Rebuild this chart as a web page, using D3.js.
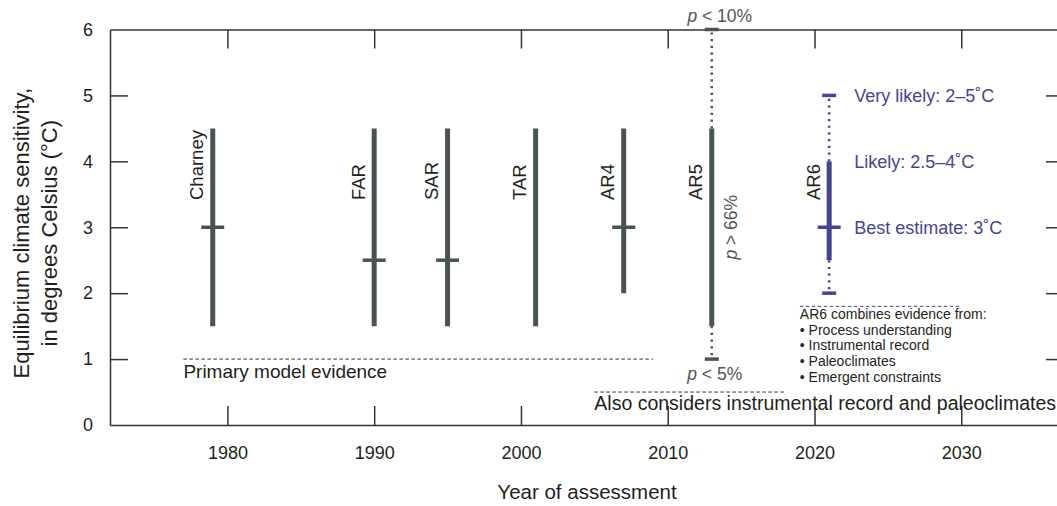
<!DOCTYPE html>
<html>
<head>
<meta charset="utf-8">
<script src="https://cdn.jsdelivr.net/npm/d3@7"></script>
<style>
  body { margin: 0; background: #fff; }
  svg { font-family: "Liberation Sans", Arial, sans-serif; }
</style>
</head>
<body>
<div class="chart-container"></div>
<script>
const WIDTH = 1057;
const HEIGHT = 506;

// assessments
const reports = ["Charney", "FAR", "SAR", "TAR", "AR4", "AR5", "AR6"];
const years = [1979, 1990, 1995, 2001, 2007, 2013, 2021];
const lowValues = [1.5, 1.5, 1.5, 1.5, 2, 1.5, 2.5];
const highValues = [4.5, 4.5, 4.5, 4.5, 4.5, 4.5, 4];
const bestValues = [3, 2.5, 2.5, null, 3, null, 3];
// dotted tails (AR5 p<5% / p<10%, AR6 very likely)
const tailLow = [null, null, null, null, null, 1, 2];
const tailHigh = [null, null, null, null, null, 6, 5];

const xTicks = [1980, 1990, 2000, 2010, 2020, 2030];
const yTicks = [0, 1, 2, 3, 4, 5, 6];

// AR6 range labels
const ar6Labels = ["Very likely: 2–5˚C", "Likely: 2.5–4˚C", "Best estimate: 3˚C"];
const ar6LabelValues = [5, 4, 3];

// evidence notes: dashed rule from year to year at a level
const noteStart = [1977, 2005, 2019];
const noteEnd = [2009, 2018, 2030];
const noteLevel = [1, 0.5, 1.8];
const ar6Notes = ["AR6 combines evidence from:", "• Process understanding", "• Instrumental record", "• Paleoclimates", "• Emergent constraints"];

const GREY = "#4a5354";
const BLUE = "#454597";
const TEXT = "#231f20";

const svg = d3.select(".chart-container")
  .append("svg")
  .attr("width", WIDTH)
  .attr("height", HEIGHT);

const x = d3.scaleLinear().domain([1972, 2037]).range([110, 1064]);
const y = d3.scaleLinear().domain([0, 6]).range([425, 29.5]);

// axes, ticks pointing inward
const axisStyle = (g) => {
  g.select(".domain").attr("stroke", "#333").attr("stroke-width", 1.5);
  g.selectAll(".tick line").attr("stroke", "#333").attr("stroke-width", 1.5);
  g.selectAll("text").attr("fill", TEXT).attr("font-size", "18px").attr("font-family", null);
};

svg.append("g")
  .attr("transform", `translate(0,${y(0)})`)
  .call(d3.axisBottom(x).tickValues(xTicks).tickFormat(d3.format("d")).tickSize(-19).tickSizeOuter(0).tickPadding(21))
  .call(axisStyle);

svg.append("g")
  .attr("transform", `translate(0,${y(6)})`)
  .call(d3.axisTop(x).tickValues(xTicks).tickFormat("").tickSize(-19).tickSizeOuter(0))
  .call(axisStyle);

svg.append("g")
  .attr("transform", `translate(${x(1972)},0)`)
  .call(d3.axisLeft(y).tickValues(yTicks).tickFormat(d3.format("d")).tickSize(-18).tickSizeOuter(0).tickPadding(17))
  .call(axisStyle)
  .call(g => g.selectAll(".tick line").filter(d => d === 0 || d === 6).remove());

svg.append("g")
  .attr("transform", `translate(${x(2037)},0)`)
  .call(d3.axisRight(y).tickValues(yTicks).tickFormat("").tickSize(-18).tickSizeOuter(0))
  .call(axisStyle)
  .call(g => g.selectAll(".tick line").filter(d => d === 0 || d === 6).remove());

// axis titles
svg.append("text")
  .attr("x", (x.range()[0] + x.range()[1]) / 2)
  .attr("y", 499)
  .attr("text-anchor", "middle")
  .attr("font-size", "20.5px")
  .attr("fill", TEXT)
  .text("Year of assessment");

const yTitle = svg.append("text")
  .attr("transform", `translate(29,${(y(0) + y(6)) / 2 + 6}) rotate(-90)`)
  .attr("text-anchor", "middle")
  .attr("font-size", "22px")
  .attr("fill", TEXT);
yTitle.append("tspan").attr("x", 0).attr("y", 0).text("Equilibrium climate sensitivity,");
yTitle.append("tspan").attr("x", 0).attr("y", 28).text("in degrees Celsius (°C)");

// bars
const rows = reports.map((name, i) => ({
  name, year: years[i], lo: lowValues[i], hi: highValues[i],
  best: bestValues[i], tLo: tailLow[i], tHi: tailHigh[i],
  color: name === "AR6" ? BLUE : GREY,
}));

const bars = svg.append("g").selectAll("g")
  .data(rows)
  .join("g");

// dotted tails
bars.filter(d => d.tHi != null).append("line")
  .attr("x1", d => x(d.year)).attr("x2", d => x(d.year))
  .attr("y1", d => y(d.hi)).attr("y2", d => y(d.tHi))
  .attr("stroke", d => d.color)
  .attr("stroke-width", 2.5)
  .attr("stroke-dasharray", "2.2,4.5");

bars.filter(d => d.tLo != null).append("line")
  .attr("x1", d => x(d.year)).attr("x2", d => x(d.year))
  .attr("y1", d => y(d.lo)).attr("y2", d => y(d.tLo))
  .attr("stroke", d => d.color)
  .attr("stroke-width", 2.5)
  .attr("stroke-dasharray", "2.2,4.5");

// tail caps
bars.filter(d => d.tHi != null).append("line")
  .attr("x1", d => x(d.year) - 7).attr("x2", d => x(d.year) + 7)
  .attr("y1", d => y(d.tHi)).attr("y2", d => y(d.tHi))
  .attr("stroke", d => d.color).attr("stroke-width", 3.5);

bars.filter(d => d.tLo != null).append("line")
  .attr("x1", d => x(d.year) - 7).attr("x2", d => x(d.year) + 7)
  .attr("y1", d => y(d.tLo)).attr("y2", d => y(d.tLo))
  .attr("stroke", d => d.color).attr("stroke-width", 3.5);

// solid range
bars.append("line")
  .attr("x1", d => x(d.year)).attr("x2", d => x(d.year))
  .attr("y1", d => y(d.lo)).attr("y2", d => y(d.hi))
  .attr("stroke", d => d.color)
  .attr("stroke-width", 5);

// best estimate
bars.filter(d => d.best != null).append("line")
  .attr("x1", d => x(d.year) - 11.5).attr("x2", d => x(d.year) + 11.5)
  .attr("y1", d => y(d.best)).attr("y2", d => y(d.best))
  .attr("stroke", d => d.color)
  .attr("stroke-width", 3.5);

// rotated report names
bars.append("text")
  .attr("transform", d => `translate(${x(d.year) - 9.5},200) rotate(-90)`)
  .attr("font-size", "18.5px")
  .attr("fill", TEXT)
  .text(d => d.name);

// AR5 probability notes
const ar5 = rows.find(d => d.name === "AR5");
const pLabel = (sel, rest) => {
  sel.append("tspan").attr("font-style", "italic").text("p");
  sel.append("tspan").text(rest);
};
svg.append("text")
  .attr("x", x(ar5.year) + 8).attr("y", y(ar5.tHi) - 8)
  .attr("text-anchor", "middle").attr("font-size", "17.5px").attr("fill", "#555")
  .call(pLabel, " < 10%");
svg.append("text")
  .attr("x", x(ar5.year) + 3).attr("y", y(ar5.tLo) + 21)
  .attr("text-anchor", "middle").attr("font-size", "17.5px").attr("fill", "#555")
  .call(pLabel, " < 5%");
svg.append("text")
  .attr("transform", `translate(${x(ar5.year) + 25.5},${y(3)}) rotate(-90)`)
  .attr("text-anchor", "middle").attr("font-size", "17.5px").attr("fill", "#555")
  .call(pLabel, " > 66%");

// AR6 labels
const ar6 = rows.find(d => d.name === "AR6");
svg.append("g").selectAll("text")
  .data(ar6Labels)
  .join("text")
  .attr("x", x(ar6.year) + 25)
  .attr("y", (d, i) => y(ar6LabelValues[i]))
  .attr("dy", "0.36em")
  .attr("font-size", "18px")
  .attr("fill", BLUE)
  .text(d => d);

// evidence notes
const notes = noteStart.map((s, i) => ({ s, e: noteEnd[i], v: noteLevel[i] }));
svg.append("g").selectAll("line")
  .data(notes)
  .join("line")
  .attr("x1", d => x(d.s)).attr("x2", d => x(d.e))
  .attr("y1", d => y(d.v)).attr("y2", d => y(d.v))
  .attr("stroke", (d, i) => i === 2 ? BLUE : "#333")
  .attr("stroke-width", 1)
  .attr("stroke-dasharray", "3.5,2.5");

svg.append("text")
  .attr("x", x(noteStart[0])).attr("y", y(noteLevel[0]) + 19)
  .attr("font-size", "19px").attr("fill", TEXT)
  .text("Primary model evidence");

svg.append("text")
  .attr("x", x(noteStart[1])).attr("y", y(noteLevel[1]) + 18)
  .attr("font-size", "19.5px").attr("fill", TEXT)
  .text("Also considers instrumental record and paleoclimates");

svg.append("g").selectAll("text")
  .data(ar6Notes)
  .join("text")
  .attr("x", x(noteStart[2]))
  .attr("y", (d, i) => y(noteLevel[2]) + 12.5 + i * 15.8)
  .attr("font-size", "14px")
  .attr("fill", TEXT)
  .text(d => d);
</script>
</body>
</html>
